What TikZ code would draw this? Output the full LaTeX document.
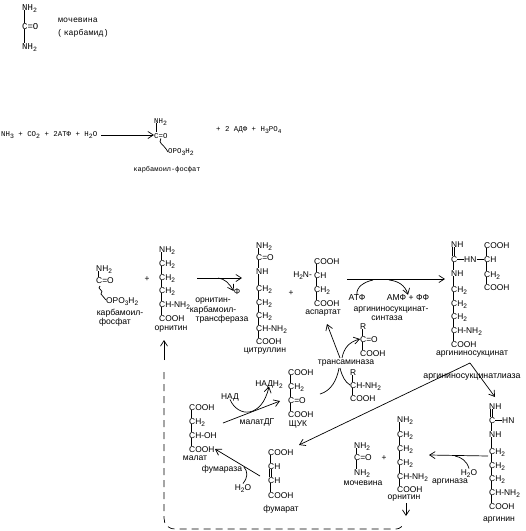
\documentclass[tikz,border=0pt]{standalone}
\usepackage{fontspec}
\setmainfont{Liberation Sans}
\newfontfamily\monofam{Liberation Mono}
\usetikzlibrary{arrows.meta}
\newcommand{\two}{\raisebox{-2pt}{\fontsize{6.5}{7}\selectfont 2}}
\newcommand{\three}{\raisebox{-2pt}{\fontsize{6.5}{7}\selectfont 3}}
\tikzset{
  >={Straight Barb[length=5.5pt,width=7pt]},
  atom/.style={anchor=west,inner sep=0pt,text height=6.5pt,text depth=0pt,font=\fontsize{8.4}{10}\selectfont},
  lbl/.style={inner sep=0pt,font=\fontsize{8.6}{9}\selectfont},
  mono/.style={inner sep=0pt,font=\monofam\fontsize{7.4}{8}\selectfont},
  monoatom/.style={atom,font=\monofam\fontsize{9}{10}\selectfont},
  line/.style={line width=0.7pt}
}
% chain of atoms with a bond between each two
\newcommand{\chain}[4][atom]{%
  \foreach \yy/\tt [count=\n] in {#4} {
    \node[#1] (#2\n) at (#3,\yy) {\tt};
    \ifnum\n>1
      \pgfmathtruncatemacro{\m}{\n-1}
      \draw[line] ([xshift=2pt]#2\m.south west) -- ([xshift=2pt]#2\n.north west);
    \fi
  }
}
% double bond
\newcommand{\dbl}[2]{%
  \draw[line] ([xshift=1pt]#1.south west) -- ([xshift=1pt]#2.north west);
  \draw[line] ([xshift=3pt]#1.south west) -- ([xshift=3pt]#2.north west);
}
\begin{document}
\begin{tikzpicture}[x=1pt,y=-1pt]
  \useasboundingbox (0,0) rectangle (526,531);
  % urea at the top
  \chain[monoatom]{ur}{22}{7/NH\two,26/C=O,46/NH\two}
  \node[mono,font=\monofam\fontsize{8.3}{9}\selectfont] (urname) at (78,20) {мочевина};
  \node[mono,font=\monofam\fontsize{8.3}{9}\selectfont] (urname2) at (83,33) {(\,карбамид)};
  % carbamoyl phosphate synthesis
  \node[mono,anchor=west] (cpleft) at (1,135) {NH\three{} + CO\two{} + 2АТФ + H\two O};
  \chain[atom,mono]{cp}{154}{120/NH\two,135/C=O}
  \node[mono,anchor=west] (cpp) at (168,152) {OPO\three H\two};
  \node[mono,font=\monofam\fontsize{7}{8}\selectfont] (cpname) at (167,170) {карбамоил-фосфат};
  \node[mono,anchor=west] (cpright) at (216,130) {+ 2 АДФ + H\three PO\fontsize{6}{7}\selectfont\raisebox{-2pt}{4}};
  \draw[->,line] (cpleft.east) ++(4,0) coordinate (cpa) -- (cp2.west);
  \draw[line] (cp2.south) .. controls (158,144) and (163,143) .. (cpp.west);
  % first row: carbamoyl phosphate
  \chain{cb}{96}{268/NH\two,280/C=O}
  \node[atom] (cbp) at (106,300) {OPO\three H\two};
  \node[lbl] (cbn) at (120,313) {карбамоил-};
  \node[lbl] (cbn2) at (115,322) {фосфат};
  \draw[line] (100,286) .. controls (96,289) and (105,290) .. (101,294) -- (cbp.west);
  \node[atom,anchor=center] (plusa) at (147,278) {+};
  % ornithine
  \chain{or}{159}{249/NH\two,263/CH\two,277/CH\two,290/CH\two,304/CH-NH\two,318/COOH}
  \node[lbl] (orn) at (171,329) {орнитин};
  \coordinate (ota) at (197,278);
  \coordinate (otb) at (242,278);
  \node[atom,anchor=center] (phi) at (237,291) {Ф};
  \draw[->,line] (ota) -- (otb);
  \draw[->,line] (218,278) .. controls (225,279) and (229,283) .. (phi.west);
  \node[lbl] (otn) at (213,301) {орнитин-};
  \node[lbl] (otn2) at (213,310) {карбамоил-};
  \node[lbl] (otn3) at (222,319) {трансфераза};
  % citrulline
  \chain{ci}{256}{245/NH\two,257/C=O,271/NH,288/CH\two,302/CH\two,315/CH\two,328/CH-NH\two,341/COOH}
  \node[lbl] (cin) at (265,351) {цитруллин};
  \node[atom,anchor=center] (plusb) at (291,292) {+};
  % aspartate
  \node[atom] (asb) at (314,261) {COOH};
  \node[atom,anchor=east] (asl) at (312,274.5) {H\two N-};
  \node[atom] (asa) at (314,275) {CH};
  \node[atom] (asc) at (314,289) {CH\two};
  \node[atom] (asd) at (314,303) {COOH};
  \draw[line] ([xshift=2pt]asb.south west) -- ([xshift=2pt]asa.north west);
  \draw[line] ([xshift=2pt]asa.south west) -- ([xshift=2pt]asc.north west);
  \draw[line] ([xshift=2pt]asc.south west) -- ([xshift=2pt]asd.north west);
  \node[lbl] (asn) at (323,313) {аспартат};
  \coordinate (assa) at (347,279);
  \coordinate (assb) at (445,279);
  \draw[->,line] (assa) -- (assb);
  \node[lbl] (atp) at (357,298) {АТФ};
  \node[lbl] (amp) at (408,298) {АМФ + ФФ};
  \draw[line] (atp.north) .. controls (356,287) and (364,282) .. (373,280);
  \draw[->,line] (389,280) .. controls (398,281) and (405,285) .. (amp.north);
  \node[lbl] (assn) at (391,310) {аргининосукцинат-};
  \node[lbl] (assn2) at (387,318) {синтаза};
  % argininosuccinate
  \chain{ag}{451}{259/C,273/NH,289/CH\two,303/CH\two,316/CH\two,330/CH-NH\two,344/COOH}
  \node[atom] (agt) at (451,244) {NH};
  \dbl{agt}{ag1}
  \node[atom] (agh) at (464,259) {HN};
  \node[atom] (agi) at (484,259) {CH};
  \node[atom] (agj) at (484,245) {COOH};
  \node[atom] (agk) at (484,274) {CH\two};
  \node[atom] (agl) at (484,287) {COOH};
  \draw[line] (ag1.east) -- (agh.west);
  \draw[line] (agh.east) -- (agi.west);
  \draw[line] ([xshift=2pt]agj.south west) -- ([xshift=2pt]agi.north west);
  \draw[line] ([xshift=2pt]agi.south west) -- ([xshift=2pt]agk.north west);
  \draw[line] ([xshift=2pt]agk.south west) -- ([xshift=2pt]agl.north west);
  \node[lbl] (agn) at (472,354) {аргининосукцинат};
  % transaminase
  \chain{tr}{360}{326/R,339/C=O,353/COOH}
  \node[lbl] (trn) at (346,363) {трансаминаза};
  \chain{ts}{350}{372/R,385/CH-NH\two,398/COOH}
  \draw[->,line] (340,358) -- (327,324);
  \draw[->,line] (342,358) .. controls (344,348) and (349,342) .. (tr2.west);
  \draw[line] (339,368) .. controls (337,380) and (331,391) .. (320,394);
  \draw[line] (340,368) .. controls (342,376) and (345,382) .. (ts2.west);
  % oxaloacetate
  \chain{oa}{288}{372/COOH,386/CH\two,400/C=O,414/COOH}
  \node[atom,anchor=center] (oan) at (298,423.5) {ЩУК};
  \node[atom,anchor=center] (nadh) at (269,383) {НАДН\two};
  \node[atom,anchor=center] (nad) at (230,396) {НАД};
  \coordinate (mda) at (223,423);
  \coordinate (mdb) at (280,401);
  \draw[->,line] (mda) -- (mdb);
  \draw[->,line] (nad.south) .. controls (238,418) and (262,418) .. (nadh.south);
  \node[lbl] (mdn) at (257,422) {малатДГ};
  % malate
  \chain{ma}{189}{407/COOH,421/CH\two,435/CH-OH,449/COOH}
  \node[lbl] (man) at (195,458) {малат};
  \coordinate (fua) at (260,476);
  \coordinate (fub) at (215,449);
  \draw[->,line] (fua) -- (fub);
  \node[lbl] (fun) at (222,469) {фумараза};
  \node[atom,anchor=center] (wat) at (243,487) {H\two O};
  \draw[line] (wat.north) .. controls (248,477) and (248,472) .. (244,467);
  % fumarate
  \chain{fm}{268}{452/COOH,466/CH}
  \chain{fn}{268}{480/CH,495/COOH}
  \dbl{fm2}{fn1}
  \node[lbl] (fmn) at (281,509) {фумарат};
  % lyase
  \node[lbl,font=\fontsize{8.8}{9}\selectfont] (lyn) at (472,377) {аргининосукцинатлиаза};
  \coordinate (lya) at (470,363);
  \draw[->,line] (lya) -- (299,445);
  \draw[->,line] (lya) -- (495,397);
  % arginine
  \chain{ar}{489}{420/C,434/NH,451/CH\two,465/CH\two,478/CH\two,492/CH-NH\two,506/COOH}
  \node[atom] (art) at (489,406) {NH};
  \dbl{art}{ar1}
  \node[atom] (arh) at (502,420) {HN};
  \draw[line] (ar1.east) -- (arh.west);
  \node[lbl] (arn) at (499,520) {аргинин};
  \coordinate (aga) at (488,456);
  \coordinate (agb) at (429,455);
  \draw[->,line] (aga) -- (agb);
  \node[atom,anchor=center] (wata) at (469,472) {H\two O};
  \draw[line] (wata.north) .. controls (467,461) and (461,457) .. (455,456);
  \node[lbl] (agsn) at (450,482) {аргиназа};
  % second ornithine
  \chain{ot}{397}{419/NH\two,434/CH\two,448/CH\two,462/CH\two,476/CH-NH\two,489/COOH}
  \node[lbl] (otnn) at (404,498) {орнитин};
  \coordinate (otc) at (406,503);
  \coordinate (otd) at (406,516);
  \draw[->,line] (otc) -- (otd);
  \node[atom,anchor=center] (plusc) at (384,457) {+};
  % urea
  \chain{uu}{354}{445/NH\two,457/C=O,472/NH\two}
  \node[lbl] (uun) at (363,483) {мочевина};
  % return to ornithine
  \coordinate (reta) at (404,522);
  \coordinate (retb) at (164,340);
  \coordinate (retc) at (164,360);
  \draw[->,line] (retc) -- (retb);
  \draw[line,dash pattern=on 7pt off 5pt] (164,372) -- (164,518) .. controls (164,525) and (168,529) .. (176,529) -- (396,529) .. controls (400,529) and (403,526) .. (reta);
\end{tikzpicture}
\end{document}
